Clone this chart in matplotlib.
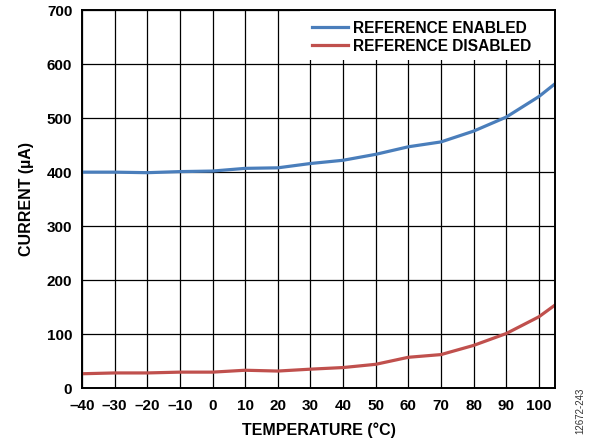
import numpy as np
import matplotlib.pyplot as plt
from matplotlib.patches import Rectangle

plt.rcParams['font.family'] = ['Liberation Sans', 'DejaVu Sans']
plt.rcParams['font.weight'] = 'bold'

# temperature (°C) and supply current (uA)
temp = [-40, -30, -20, -10, 0, 10, 20, 30, 40, 50, 60, 70, 80, 90, 100, 105]
ref_enabled = [400, 400, 399, 401, 402, 407, 408, 416, 422, 433, 447, 456, 476, 502, 540, 564]
ref_disabled = [26.5, 28, 28, 29.5, 29.5, 33, 31.5, 35, 38, 44, 57, 62, 79, 101, 132, 154]

x_ticks = [-40, -30, -20, -10, 0, 10, 20, 30, 40, 50, 60, 70, 80, 90, 100]
x_ticklabels = ["–40", "–30", "–20", "–10", "0", "10", "20", "30", "40", "50",
                "60", "70", "80", "90", "100"]
y_ticks = [0, 100, 200, 300, 400, 500, 600, 700]


def main():
    fig = plt.figure(figsize=(5.9, 4.44), dpi=100)
    ax = fig.add_axes([0.139, 0.126, 0.802, 0.851])

    ax.plot(temp, ref_enabled, color="#4a7ebb", lw=2.3, label="REFERENCE ENABLED")
    ax.plot(temp, ref_disabled, color="#c0504d", lw=2.3, label="REFERENCE DISABLED")

    ax.set_xlim(-40, 105)
    ax.set_ylim(0, 700)
    ax.set_xticks(x_ticks)
    ax.set_xticklabels(x_ticklabels)
    ax.set_yticks(y_ticks)
    ax.tick_params(length=0, labelsize=11)
    ax.tick_params(axis="x", pad=8)
    ax.tick_params(axis="y", pad=7)
    ax.grid(color="black", lw=0.9)
    ax.set_axisbelow(True)
    for s in ax.spines.values():
        s.set_linewidth(1.4)

    # white block behind the legend hides the grid there
    ax.add_patch(Rectangle((0.461, 0.868), 0.539, 0.132, transform=ax.transAxes,
                           facecolor="white", edgecolor="none", zorder=1.5))

    ax.set_xlabel("TEMPERATURE (°C)", fontsize=11.5, fontweight="bold", labelpad=7)
    ax.set_ylabel("CURRENT (µA)", fontsize=11.5, fontweight="bold", labelpad=9)

    leg = ax.legend(loc="upper left", bbox_to_anchor=(0.486, 0.972), fontsize=11.2,
                    handlelength=2.3, handletextpad=0.35, labelspacing=0.18,
                    borderaxespad=0.0, borderpad=0.0, frameon=False)
    for t in leg.get_texts():
        t.set_fontweight("bold")

    fig.text(0.983, 0.075, "12672-243", rotation=90, fontsize=7,
             fontweight="normal", ha="center", va="center", color="#333333")

    plt.savefig("out.png")


if __name__ == "__main__":
    main()
